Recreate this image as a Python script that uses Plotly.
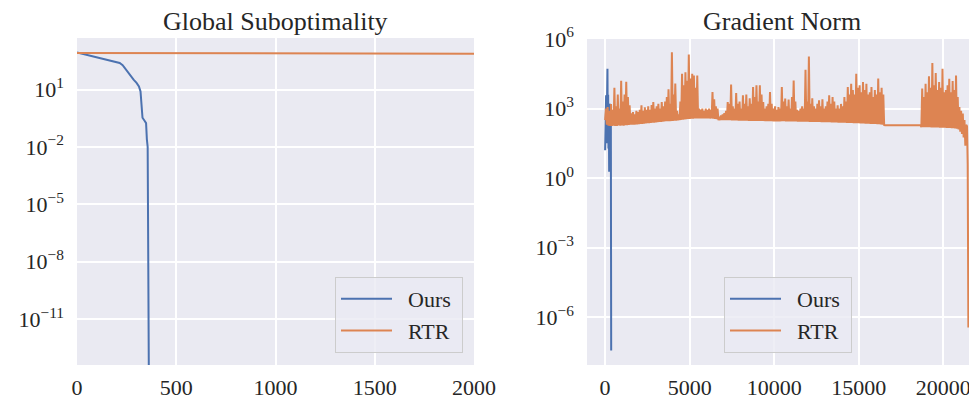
import numpy as np
import plotly.graph_objects as go

# ---------------- data (log10 units) ----------------
# Left panel: Global Suboptimality
ours_sub_iter = [0, 40, 80, 120, 165, 195, 215, 230, 240, 255, 265, 275, 285, 300, 312, 320, 325,
                 330, 342, 348, 352, 356, 362]
ours_sub_log = [2.94, 2.84, 2.73, 2.64, 2.53, 2.46, 2.39, 2.28, 2.13, 1.95, 1.78, 1.64, 1.52, 1.35,
                1.17, 0.91, 0.31, -0.47, -0.65, -0.75, -1.6, -2.0, -14.0]
rtr_sub_iter = [0, 500, 1000, 1500, 2000]
rtr_sub_log = [2.92, 2.90, 2.89, 2.88, 2.87]

# Right panel: Gradient Norm
ours_grad_iter = [0, 20, 40, 60, 80, 100, 120, 140, 160, 180, 200, 220, 240, 260, 280, 300, 320, 340, 360]
ours_grad_log = [1.2, 2.5, 1.3, 3.57, 1.5, 3.3, 1.8, 4.72, 2.0, 3.6, 1.28, 3.0, 0.28, 3.2, 1.5, 3.14,
                 1.8, 2.5, -7.44]

# RTR iterations: sampled every 50 iterations in the noisy phases
rtr_grad_iter = (list(range(0, 16600, 50)) + [18650] + list(range(18700, 21450, 50))
                 + [21440, 21460, 21480])
rtr_grad_log = [
    # 0 - 950
    2.5, 3.0, 2.3, 3.07, 2.26, 2.9, 2.25, 3.2, 2.25, 2.95, 2.26, 3.9, 2.25, 3.1, 2.25, 3.6, 2.27, 3.0, 2.26, 4.2,
    # 1000 - 1950
    2.27, 3.3, 2.26, 3.6, 2.28, 4.15, 2.28, 3.5, 2.29, 3.14, 2.3, 2.8, 2.3, 2.85, 2.31, 2.75, 2.31, 2.9, 2.32, 2.85,
    # 2000 - 2950
    2.33, 2.95, 2.34, 3.14, 2.34, 2.9, 2.35, 3.05, 2.36, 2.95, 2.37, 3.1, 2.37, 2.95, 2.38, 3.15, 2.39, 3.28, 2.39, 3.0,
    # 3000 - 3950
    2.4, 3.1, 2.41, 3.2, 2.42, 3.0, 2.42, 3.28, 2.43, 3.1, 2.44, 3.3, 2.45, 3.5, 2.45, 3.83, 2.46, 3.2, 2.46, 5.43,
    # 4000 - 4950
    2.47, 3.6, 2.48, 4.08, 2.48, 2.9, 2.49, 2.75, 2.5, 3.3, 2.51, 4.5, 2.52, 4.0, 2.53, 4.57, 2.54, 4.2, 2.55, 5.33,
    # 5000 - 5950
    2.55, 4.3, 2.56, 4.5, 2.56, 4.43, 2.57, 3.9, 2.57, 4.43, 2.58, 3.0, 2.58, 2.95, 2.58, 3.0, 2.58, 2.9, 2.58, 3.0,
    # 6000 - 6950
    2.58, 2.95, 2.57, 3.0, 2.57, 2.95, 2.57, 3.71, 2.56, 3.4, 2.55, 3.1, 2.54, 3.0, 2.5, 2.65, 2.5, 2.7, 2.5, 2.75,
    # 7000 - 7950
    2.5, 2.8, 2.5, 2.9, 2.5, 3.28, 2.5, 3.2, 2.5, 4.04, 2.49, 3.1, 2.49, 3.0, 2.49, 3.67, 2.49, 3.2, 2.48, 3.3,
    # 8000 - 8950
    2.48, 3.0, 2.48, 3.57, 2.48, 3.2, 2.48, 3.61, 2.48, 3.1, 2.47, 3.44, 2.47, 3.2, 2.47, 3.93, 2.47, 3.5, 2.47, 4.0,
    # 9000 - 9950
    2.47, 3.3, 2.47, 4.0, 2.46, 3.6, 2.46, 3.28, 2.46, 3.0, 2.46, 3.1, 2.46, 3.2, 2.46, 3.71, 2.45, 3.2, 2.45, 3.0,
    # 10000 - 10950
    2.45, 3.1, 2.45, 2.95, 2.45, 3.07, 2.45, 3.0, 2.45, 3.93, 2.45, 3.3, 2.45, 3.43, 2.44, 3.1, 2.44, 3.39, 2.44, 3.0,
    # 11000 - 11950
    2.44, 3.5, 2.44, 4.21, 2.44, 3.3, 2.44, 2.95, 2.43, 2.9, 2.43, 3.0, 2.43, 3.1, 2.43, 3.0, 2.43, 4.67, 2.43, 3.3,
    # 12000 - 12950
    2.43, 5.24, 2.42, 3.2, 2.42, 3.44, 2.42, 3.1, 2.42, 3.0, 2.42, 3.2, 2.42, 3.36, 2.42, 3.1, 2.41, 3.4, 2.41, 3.0,
    # 13000 - 13950
    2.41, 3.1, 2.41, 3.3, 2.41, 3.57, 2.41, 3.2, 2.4, 3.5, 2.4, 3.3, 2.4, 3.0, 2.4, 3.14, 2.39, 3.0, 2.39, 3.2,
    # 14000 - 14950
    2.39, 3.1, 2.39, 3.5, 2.39, 3.3, 2.38, 3.93, 2.38, 3.6, 2.38, 4.07, 2.38, 3.8, 2.37, 3.6, 2.37, 4.5, 2.37, 3.9,
    # 15000 - 15950
    2.37, 4.0, 2.36, 3.7, 2.36, 4.14, 2.36, 3.8, 2.35, 4.07, 2.35, 3.6, 2.35, 3.7, 2.34, 3.93, 2.34, 3.5, 2.33, 3.8,
    # 16000 - 16550
    2.33, 3.6, 2.32, 4.3, 2.32, 3.7, 2.31, 3.9, 2.3, 3.6, 2.29, 2.28,
    # 18650 (end of the flat stretch)
    2.28,
    # 18700 - 19650
    2.2, 3.86, 2.2, 3.5, 2.2, 4.07, 2.19, 3.7, 2.19, 4.39, 2.19, 3.9, 2.18, 4.96, 2.18, 4.0, 2.18, 4.53, 2.18, 3.8,
    # 19700 - 20650
    2.18, 4.14, 2.17, 3.9, 2.17, 4.72, 2.17, 3.7, 2.17, 3.8, 2.16, 4.0, 2.16, 4.29, 2.16, 3.7, 2.15, 4.19, 2.15, 3.8,
    # 20700 - 21400
    2.14, 4.43, 2.13, 3.5, 2.1, 3.07, 2.0, 2.9, 1.9, 2.79, 1.75, 2.5, 1.4, 2.3, 2.24,
    # final drop
    0.6, -2.9, -6.44,
]
assert len(rtr_grad_iter) == len(rtr_grad_log), (len(rtr_grad_iter), len(rtr_grad_log))

left_ytick_exp = [1, -2, -5, -8, -11]
right_ytick_exp = [6, 3, 0, -3, -6]
left_xticks = [0, 500, 1000, 1500, 2000]
right_xticks = [0, 5000, 10000, 15000, 20000]

BLUE = "#4C72B0"
ORANGE = "#DD8452"
FONT = "Liberation Serif, Times New Roman, serif"
TXT = "#262626"

def pw(a):
    return np.power(10.0, np.array(a, dtype=float))

def sup_label(e):
    s = str(e).replace("-", "\u2212")
    return "10<sup>" + s + "</sup>"

# page has an 8px body margin: figure is 8px smaller on each axis
W, H = 969, 391
NB = "\u00a0"
fig = go.Figure()

# left panel
fig.add_trace(go.Scatter(x=ours_sub_iter, y=pw(ours_sub_log), mode="lines", name=NB * 2 + "Ours" + NB,
                         line=dict(color=BLUE, width=2), xaxis="x", yaxis="y", legend="legend"))
fig.add_trace(go.Scatter(x=rtr_sub_iter, y=pw(rtr_sub_log), mode="lines", name=NB * 2 + "RTR",
                         line=dict(color=ORANGE, width=2), xaxis="x", yaxis="y", legend="legend"))
# right panel
fig.add_trace(go.Scatter(x=ours_grad_iter, y=pw(ours_grad_log), mode="lines", name=NB * 2 + "Ours" + NB,
                         line=dict(color=BLUE, width=2), xaxis="x2", yaxis="y2", legend="legend2"))
fig.add_trace(go.Scatter(x=rtr_grad_iter, y=pw(rtr_grad_log), mode="lines", name=NB * 2 + "RTR",
                         line=dict(color=ORANGE, width=2), xaxis="x2", yaxis="y2", legend="legend2"))

axis_common = dict(showgrid=True, gridcolor="white", gridwidth=1.5, zeroline=False,
                   showline=False, ticks="", automargin=False,
                   tickfont=dict(family=FONT, size=22, color=TXT))

legend_common = dict(xanchor="right", yanchor="bottom", y=1 - 345 / H,
                     bgcolor="rgba(234,234,242,0.8)", bordercolor="#CCCCCC", borderwidth=1,
                     itemwidth=51,
                     font=dict(family=FONT, size=22, color=TXT))

fig.update_layout(
    template="none",
    width=W, height=H,
    margin=dict(l=0, r=0, t=0, b=0, autoexpand=False),
    paper_bgcolor="white",
    plot_bgcolor="#EAEAF2",
    font=dict(family=FONT, color=TXT),
    xaxis=dict(domain=[69 / W, 466 / W], range=[0, 2000], tickvals=left_xticks,
               ticktext=[str(v) for v in left_xticks],
               ticklabelstandoff=7, anchor="y", **axis_common),
    yaxis=dict(domain=[1 - 357 / H, 1 - 30 / H], type="log", range=[-13.4, 3.7],
               tickvals=pw(left_ytick_exp), ticktext=[sup_label(e) for e in left_ytick_exp],
               ticklabelstandoff=12, anchor="x", **axis_common),
    xaxis2=dict(domain=[579 / W, 1.0], range=[-1070, 21990], tickvals=right_xticks,
                ticktext=[str(v) for v in right_xticks],
                ticklabelstandoff=7, anchor="y2", **axis_common),
    yaxis2=dict(domain=[1 - 357 / H, 1 - 31 / H], type="log", range=[-8.06, 6.0],
                tickvals=pw(right_ytick_exp), ticktext=[sup_label(e) for e in right_ytick_exp],
                ticklabelstandoff=12, anchor="x2", **axis_common),
    legend=dict(x=455 / W, **legend_common),
    legend2=dict(x=844 / W, **legend_common),
    annotations=[
        dict(text="Global Suboptimality", x=(69 + 466) / 2 / W, y=1 - 13 / H, xref="paper",
             yref="paper", xanchor="center", yanchor="middle", showarrow=False,
             font=dict(family=FONT, size=26, color=TXT)),
        dict(text="Gradient Norm", x=(579 + 969) / 2 / W, y=1 - 13 / H, xref="paper",
             yref="paper", xanchor="center", yanchor="middle", showarrow=False,
             font=dict(family=FONT, size=26, color=TXT)),
    ],
)

fig.write_html("out.html")
